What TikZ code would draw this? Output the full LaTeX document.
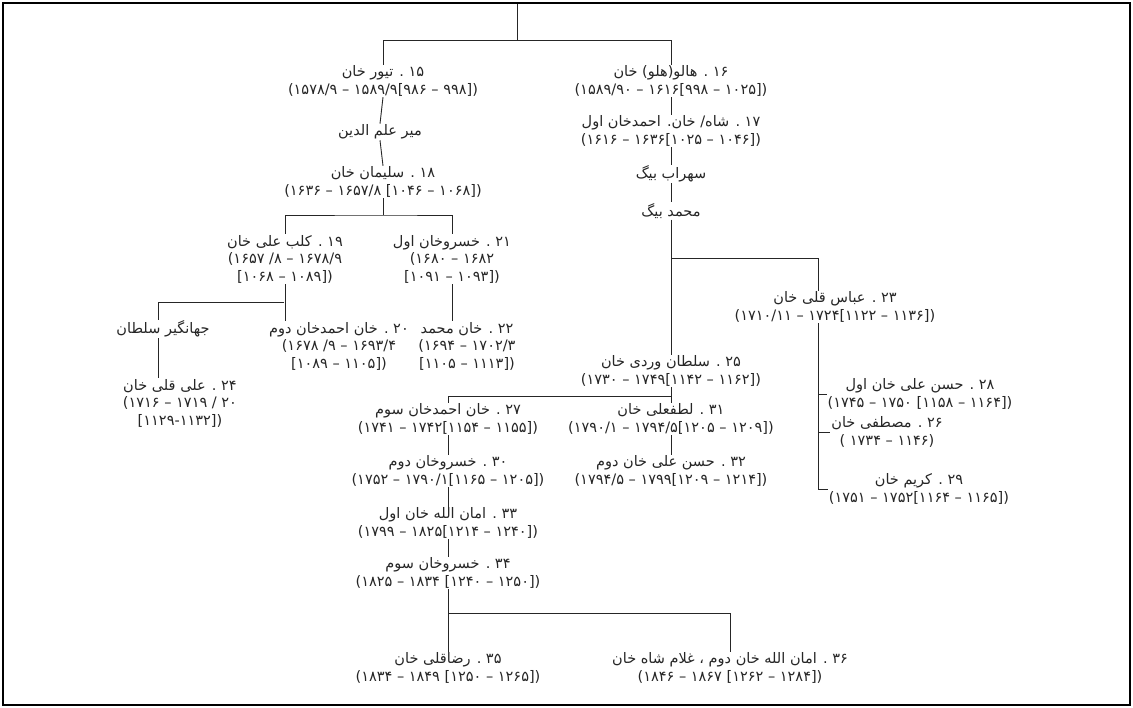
\documentclass[tikz,border=0pt]{standalone}
\usepackage{fontspec}
\usetikzlibrary{backgrounds}
\TeXXeTstate=1
\newfontfamily\pf[Script=Arabic]{DejaVu Sans}
\newfontfamily\df{DejaVu Sans}
\newcommand{\nm}[1]{\beginR #1\endR}
\newcommand{\dl}[1]{{\df #1}}
\tikzset{
  lbl/.style={fill=white, inner sep=0.8pt, align=center, text=black!85,
    font=\pf\fontsize{14.5}{17.5}\selectfont},
  conn/.style={draw=black!85, line width=0.9pt},
  frame/.style={draw=black, line width=1.6pt},
}
\begin{document}
\begin{tikzpicture}[x=1pt,y=-1pt]
\useasboundingbox (0,0) rectangle (1133,708);
% nodes
\node[lbl] (n15) at (383,81) {\nm{۱۵ . تیور خان}\\\dl{(۱۵۷۸/۹ – ۱۵۸۹/۹[۹۸۶ – ۹۹۸])}};
\node[lbl] (n16) at (671,81) {\nm{۱۶ . هالو(هلو) خان}\\\dl{(۱۵۸۹/۹۰ – ۱۶۱۶[۹۹۸ – ۱۰۲۵])}};
\node[lbl] (n17) at (671,131) {\nm{۱۷ . شاه/ خان. احمدخان اول}\\\dl{(۱۶۱۶ – ۱۶۳۶[۱۰۲۵ – ۱۰۴۶])}};
\node[lbl] (mir) at (380,132) {\nm{میر علم الدین}};
\node[lbl] (n18) at (383,182) {\nm{۱۸ . سلیمان خان}\\\dl{(۱۶۳۶ – ۱۶۵۷/۸ [۱۰۴۶ – ۱۰۶۸])}};
\node[lbl] (sohrab) at (671,174) {\nm{سهراب بیگ}};
\node[lbl] (mohb) at (671,211) {\nm{محمد بیگ}};
\node[lbl] (n19) at (285,259) {\nm{۱۹ . کلب علی خان}\\\dl{(۱۶۵۷ /۸ – ۱۶۷۸/۹}\\\dl{[۱۰۶۸ – ۱۰۸۹])}};
\node[lbl] (n21) at (452,259) {\nm{۲۱ . خسروخان اول}\\\dl{(۱۶۸۰ – ۱۶۸۲}\\\dl{[۱۰۹۱ – ۱۰۹۳])}};
\node[lbl] (jah) at (163,329) {\nm{جهانگیر سلطان}};
\node[lbl] (n20) at (339,346) {\nm{۲۰ . خان احمدخان دوم}\\\dl{(۱۶۷۸ /۹ – ۱۶۹۳/۴}\\\dl{[۱۰۸۹ – ۱۱۰۵])}};
\node[lbl] (n22) at (467,346) {\nm{۲۲ . خان محمد}\\\dl{(۱۶۹۴ – ۱۷۰۲/۳}\\\dl{[۱۱۰۵ – ۱۱۱۳])}};
\node[lbl] (n24) at (180,403) {\nm{۲۴ . علی قلی خان}\\\dl{(۱۷۱۶ – ۱۷۱۹ / ۲۰}\\\dl{[۱۱۲۹-۱۱۳۲])}};
\node[lbl] (n23) at (835,307) {\nm{۲۳ . عباس قلی خان}\\\dl{(۱۷۱۰/۱۱ – ۱۷۲۴[۱۱۲۲ – ۱۱۳۶])}};
\node[lbl] (n25) at (671,371) {\nm{۲۵ . سلطان وردی خان}\\\dl{(۱۷۳۰ – ۱۷۴۹[۱۱۴۲ – ۱۱۶۲])}};
\node[lbl] (n28) at (920,394) {\nm{۲۸ . حسن علی خان اول}\\\dl{(۱۷۴۵ – ۱۷۵۰ [۱۱۵۸ – ۱۱۶۴])}};
\node[lbl] (n26) at (887,432) {\nm{۲۶ . مصطفی خان}\\\dl{( ۱۷۳۴ – ۱۱۴۶)}};
\node[lbl] (n29) at (919,489) {\nm{۲۹ . کریم خان}\\\dl{(۱۷۵۱ – ۱۷۵۲[۱۱۶۴ – ۱۱۶۵])}};
\node[lbl] (n27) at (448,419) {\nm{۲۷ . خان احمدخان سوم}\\\dl{(۱۷۴۱ – ۱۷۴۲[۱۱۵۴ – ۱۱۵۵])}};
\node[lbl] (n31) at (671,419) {\nm{۳۱ . لطفعلی خان}\\\dl{(۱۷۹۰/۱ – ۱۷۹۴/۵[۱۲۰۵ – ۱۲۰۹])}};
\node[lbl] (n30) at (448,471) {\nm{۳۰ . خسروخان دوم}\\\dl{(۱۷۵۲ – ۱۷۹۰/۱[۱۱۶۵ – ۱۲۰۵])}};
\node[lbl] (n32) at (671,471) {\nm{۳۲ . حسن علی خان دوم}\\\dl{(۱۷۹۴/۵ – ۱۷۹۹[۱۲۰۹ – ۱۲۱۴])}};
\node[lbl] (n33) at (448,523) {\nm{۳۳ . امان الله خان اول}\\\dl{(۱۷۹۹ – ۱۸۲۵[۱۲۱۴ – ۱۲۴۰])}};
\node[lbl] (n34) at (448,573) {\nm{۳۴ . خسروخان سوم}\\\dl{(۱۸۲۵ – ۱۸۳۴ [۱۲۴۰ – ۱۲۵۰])}};
\node[lbl] (n35) at (448,668) {\nm{۳۵ . رضاقلی خان}\\\dl{(۱۸۳۴ – ۱۸۴۹ [۱۲۵۰ – ۱۲۶۵])}};
\node[lbl] (n36) at (730,668) {\nm{۳۶ . امان الله خان دوم ، غلام شاه خان}\\\dl{(۱۸۴۶ – ۱۸۶۷ [۱۲۶۲ – ۱۲۸۴])}};
% junction coordinates
\coordinate (top) at (517,4);
\coordinate (tj) at (517,40);
\coordinate (j18) at (383,215);
\coordinate (j19) at (284,302);
\coordinate (v158) at (158,0);
\coordinate (jr) at (671,258);
\coordinate (c818t) at (818,258);
\coordinate (c818b) at (818,489);
\coordinate (j25) at (671,396);
\coordinate (j34) at (448,613);
\begin{scope}[on background layer]
\fill[white] (0,0) rectangle (1133,708);
\draw[conn] (top) -- (tj);
\draw[conn] (n15.north) -- (n15.north |- tj) -- (n16.north |- tj) -- (n16.north);
\draw[conn] (n15.south) -- (mir.north);
\draw[conn] (mir.south) -- (n18.north);
\draw[conn] (n18.south) -- (j18);
\draw[conn] (n19.north) |- (j18) -| (n21.north);
\draw[conn] (n19.south) -- (n19.south |- n20.north);
\draw[conn] (j19) -| (jah.north -| v158);
\draw[conn] (jah.south -| v158) -- (n24.north -| v158);
\draw[conn] (n21.south) -- (n21.south |- n22.north);
\draw[conn] (n16.south) -- (n17.north);
\draw[conn] (n17.south) -- (sohrab.north);
\draw[conn] (sohrab.south) -- (mohb.north);
\draw[conn] (mohb.south) -- (n25.north);
\draw[conn] (jr) -- (c818t) -- (c818b) -- (n29.west |- c818b);
\draw[conn] (n28.west -| c818t) -- (n28.west);
\draw[conn] (n26.west -| c818t) -- (n26.west);
\draw[conn] (n25.south) -- (n31.north);
\draw[conn] (n27.north) |- (j25);
\draw[conn] (n27.south) -- (n30.north);
\draw[conn] (n30.south) -- (n33.north);
\draw[conn] (n33.south) -- (n34.north);
\draw[conn] (n31.south) -- (n32.north);
\draw[conn] (n34.south) -- (j34) -| (n36.north);
\draw[conn] (j34) -- (n35.north);
\end{scope}
\draw[frame] (3,3) rectangle (1130,705);
\end{tikzpicture}
\end{document}
